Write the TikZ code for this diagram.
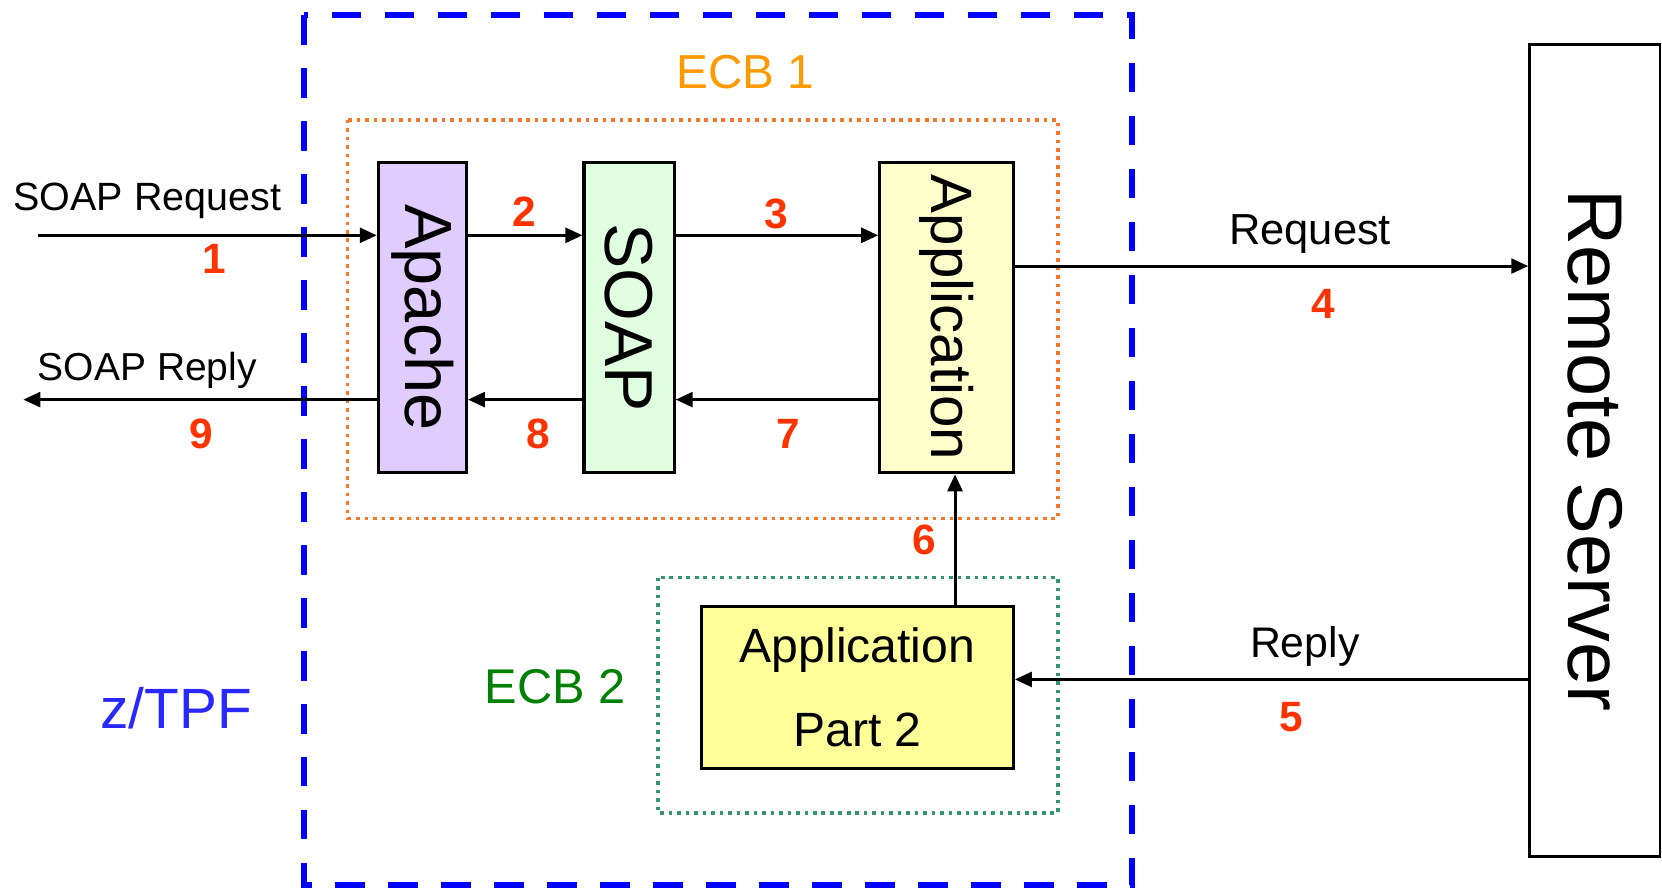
\documentclass[tikz,border=0pt]{standalone}
\usepackage{fontspec}
\setmainfont{Liberation Sans}
\usetikzlibrary{arrows.meta}
\definecolor{numred}{RGB}{255,51,0}
\definecolor{ecborange}{RGB}{255,153,0}
\definecolor{dotorange}{RGB}{245,120,40}
\definecolor{dotgreen}{RGB}{51,150,110}
\definecolor{ecbgreen}{RGB}{0,128,0}
\definecolor{tpfblue}{RGB}{40,40,255}
\definecolor{apachefill}{RGB}{224,204,255}
\definecolor{soapfill}{RGB}{224,255,224}
\definecolor{appfill}{RGB}{255,255,204}
\definecolor{apptwofill}{RGB}{255,255,153}
\tikzset{
  box/.style={draw=black, line width=1.5pt, inner sep=0pt, anchor=center},
  arr/.style={draw=black, line width=1.4pt, -{Triangle[length=8pt,width=7pt]}},
  num/.style={text=numred, font=\fontsize{20}{24}\bfseries\selectfont, inner sep=0pt},
  lbl/.style={text=black, inner sep=0pt},
  dotbox/.style={line width=1.7pt, dash pattern=on 1.7pt off 2.3pt},
}
\begin{document}
\begin{tikzpicture}[x=0.5pt,y=-0.5pt]
\useasboundingbox (0,0) rectangle (1568,842);
% containers
\draw[blue, line width=2.6pt, dash pattern=on 14pt off 11pt] (287,14) rectangle (1068,835);
\draw[dotorange, dotbox] (328,113) rectangle (998,489);
\draw[dotgreen, dotbox] (621,545) rectangle (998,767);
\node[text=ecborange, font=\fontsize{22.5}{26}\selectfont, inner sep=0pt] (ecb1) at (703,68) {ECB 1};
\node[text=ecbgreen, font=\fontsize{23}{26}\selectfont, inner sep=0pt] (ecb2) at (524,648) {ECB 2};
\node[text=tpfblue, font=\fontsize{26.8}{30}\selectfont, inner sep=0pt] (tpf) at (166,668) {z/TPF};
% boxes
\node[box, fill=apachefill, minimum width=41.5pt, minimum height=146.5pt, font=\fontsize{31.5}{34}\selectfont] (apache) at (398.5,299.5) {\rotatebox{-90}{Apache}};
\node[box, fill=soapfill, minimum width=42.5pt, minimum height=146.5pt, font=\fontsize{32}{34}\selectfont] (soap) at (593.5,299.5) {\rotatebox{-90}{SOAP}};
\node[box, fill=appfill, minimum width=63pt, minimum height=146.5pt, font=\fontsize{27.5}{30}\selectfont] (app) at (893,299.5) {\rotatebox{-90}{Application}};
\node[box, fill=apptwofill, minimum width=147pt, minimum height=76.5pt, align=center, font=\fontsize{22.7}{40}\selectfont] (app2) at (809,648.5) {Application\\Part 2};
\node[box, line width=1.2pt, minimum width=61.5pt, minimum height=383pt, font=\fontsize{36.6}{40}\selectfont] (remote) at (1504.5,425) {\rotatebox{-90}{Remote Server}};
% rows
\coordinate (rowA) at (0,222);
\coordinate (rowB) at (0,377);
\coordinate (rowR) at (0,251);
\coordinate (rowP) at (0,641);
\coordinate (col6) at (901,0);
\coordinate (in1) at (36,222);
\coordinate (out9) at (22,377);
% connectors
\draw[arr] (in1) -- (apache.west |- rowA);
\draw[arr] (apache.east |- rowA) -- (soap.west |- rowA);
\draw[arr] (soap.east |- rowA) -- (app.west |- rowA);
\draw[arr] (app.east |- rowR) -- (remote.west |- rowR);
\draw[arr] (remote.west |- rowP) -- (app2.east |- rowP);
\draw[arr] (col6 |- app2.north) -- (col6 |- app.south);
\draw[arr] (app.west |- rowB) -- (soap.east |- rowB);
\draw[arr] (soap.west |- rowB) -- (apache.east |- rowB);
\draw[arr] (apache.west |- rowB) -- (out9);
% labels
\node[lbl, font=\fontsize{18.6}{22}\selectfont] (lreq) at (139,189) {SOAP Request};
\node[lbl, font=\fontsize{18.4}{22}\selectfont] (lrep) at (139,349) {SOAP Reply};
\node[lbl, font=\fontsize{20.5}{24}\selectfont] (rreq) at (1236,221) {Request};
\node[lbl, font=\fontsize{20.2}{24}\selectfont] (rrep) at (1231,610) {Reply};
\node[num] (n1) at (202,244) {1};
\node[num] (n2) at (495,200) {2};
\node[num] (n3) at (732,202) {3};
\node[num] (n4) at (1248,287) {4};
\node[num] (n5) at (1218,677) {5};
\node[num] (n6) at (872,509) {6};
\node[num] (n7) at (744,409) {7};
\node[num] (n8) at (508,409) {8};
\node[num] (n9) at (190,409) {9};
\end{tikzpicture}
\end{document}
